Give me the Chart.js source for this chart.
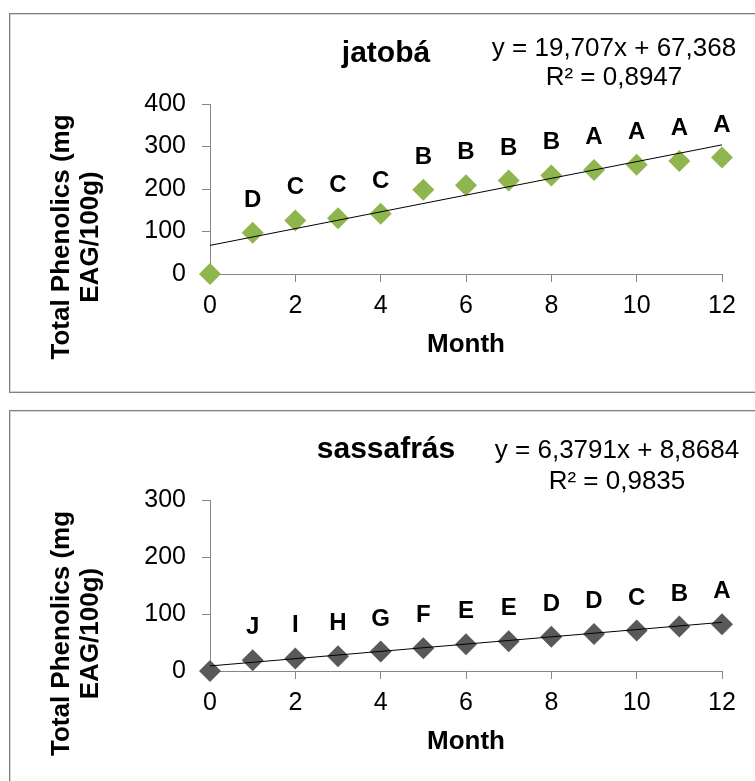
<!DOCTYPE html>
<html lang="en">
<head>
    <meta charset="UTF-8">
    <title>Total Phenolics</title>
    <script src="https://cdn.jsdelivr.net/npm/chart.js"></script>
    <style>
        body { margin: 0; background: #fff; width: 755px; height: 781px; overflow: hidden; position: relative; font-family: "Liberation Sans", Arial, sans-serif; }
        .panel { position: absolute; left: 9px; width: 800px; border: 1px solid #808080; box-shadow: inset 0 0 0 1px #d4d4d4; box-sizing: border-box; }
        canvas { position: absolute; left: 10px; }
    </style>
</head>
<body>
    <div class="panel" style="top: 13px; height: 380px;"></div>
    <div class="panel" style="top: 410px; height: 400px;"></div>
    <canvas id="jatobaChart" width="745" height="374" style="top: 16px;"></canvas>
    <canvas id="sassafrasChart" width="745" height="369" style="top: 412px;"></canvas>

    <script>
        const months = [0, 1, 2, 3, 4, 5, 6, 7, 8, 9, 10, 11, 12];

        const jatoba = [0, 97, 126, 131, 142, 198, 209, 220, 232, 245, 257, 266, 274];
        const jatobaLetters = ['', 'D', 'C', 'C', 'C', 'B', 'B', 'B', 'B', 'A', 'A', 'A', 'A'];
        const jatobaTrend = [67.37, 303.85];   // trend line at month 0 and 12
        const jatobaEq = ['y = 19,707x + 67,368', 'R² = 0,8947'];

        const sassafras = [0, 19, 22, 26, 34, 40, 47, 52, 60, 65, 71, 78, 82];
        const sassafrasLetters = ['', 'J', 'I', 'H', 'G', 'F', 'E', 'E', 'D', 'D', 'C', 'B', 'A'];
        const sassafrasTrend = [8.87, 85.42];
        const sassafrasEq = ['y = 6,3791x + 8,8684', 'R² = 0,9835'];

        const trendMonths = [0, 12];
        const yTitle = ['Total Phenolics (mg', 'EAG/100g)'];

        const FONT = '"Liberation Sans", Arial, sans-serif';
        const AXIS = '#868686';

        // letters, title, equation and y axis title
        const annotate = {
            id: 'annotate',
            afterDatasetsDraw(chart, args, o) {
                const ctx = chart.ctx;
                const a = chart.chartArea;
                const pts = chart.getDatasetMeta(1).data;
                ctx.save();
                ctx.fillStyle = '#000';
                ctx.textAlign = 'center';
                ctx.textBaseline = 'alphabetic';

                ctx.font = 'bold 24px ' + FONT;
                pts.forEach((p, i) => {
                    if (o.letters[i]) ctx.fillText(o.letters[i], p.x, p.y - 26);
                });

                ctx.font = 'bold 30px ' + FONT;
                ctx.fillText(o.title, 376, 46);

                ctx.font = '26px ' + FONT;
                ctx.fillText(o.eq[0], o.eqX, o.eqY[0]);
                ctx.fillText(o.eq[1], o.eqX, o.eqY[1]);

                ctx.font = 'bold 26px ' + FONT;
                ctx.textBaseline = 'middle';
                ctx.translate(a.left - 148, (a.top + a.bottom) / 2 + 48);
                ctx.rotate(-Math.PI / 2);
                ctx.fillText(yTitle[0], 0, 0);
                ctx.fillText(yTitle[1], 0, 29);
                ctx.restore();
            }
        };

        function makeChart(id, values, trend, color, yMax, extra, bottomPad) {
            const ctx = document.getElementById(id).getContext('2d');
            return new Chart(ctx, {
                type: 'scatter',
                data: {
                    datasets: [{
                        data: trendMonths.map((m, i) => ({ x: m, y: trend[i] })),
                        showLine: true,
                        borderColor: '#000',
                        borderWidth: 1,
                        pointRadius: 0,
                        clip: false
                    }, {
                        data: months.map((m, i) => ({ x: m, y: values[i] })),
                        pointStyle: 'rectRot',
                        pointRadius: 11,
                        backgroundColor: color,
                        borderColor: color,
                        borderWidth: 0,
                        clip: false
                    }]
                },
                options: {
                    responsive: false,
                    animation: false,
                    events: [],
                    layout: { padding: { left: 0, top: 88, right: 33, bottom: bottomPad } },
                    plugins: {
                        legend: { display: false },
                        tooltip: { enabled: false },
                        annotate: extra
                    },
                    scales: {
                        x: {
                            type: 'linear',
                            min: 0, max: 12,
                            afterFit: s => { s.height = 90; },
                            ticks: { stepSize: 2, padding: 9, color: '#000', font: { family: FONT, size: 25 } },
                            grid: { drawOnChartArea: false, drawTicks: true, tickLength: 8, color: AXIS },
                            border: { color: AXIS },
                            title: { display: true, text: 'Month', color: '#000', padding: { top: 0, bottom: 4 },
                                     font: { family: FONT, size: 26, weight: 'bold' } }
                        },
                        y: {
                            min: 0, max: yMax,
                            afterFit: s => { s.width = 200; },
                            ticks: { stepSize: 100, padding: 16, color: '#000', font: { family: FONT, size: 25 } },
                            grid: { drawOnChartArea: false, drawTicks: true, tickLength: 8, color: AXIS },
                            border: { color: AXIS }
                        }
                    }
                },
                plugins: [annotate]
            });
        }

        makeChart('jatobaChart', jatoba, jatobaTrend, '#8fb54f', 400, {
            letters: jatobaLetters, title: 'jatobá', eq: jatobaEq, eqX: 604, eqY: [40, 69]
        }, 26);

        makeChart('sassafrasChart', sassafras, sassafrasTrend, '#595959', 300, {
            letters: sassafrasLetters, title: 'sassafrás', eq: sassafrasEq, eqX: 607, eqY: [46, 77]
        }, 20);
    </script>
</body>
</html>
